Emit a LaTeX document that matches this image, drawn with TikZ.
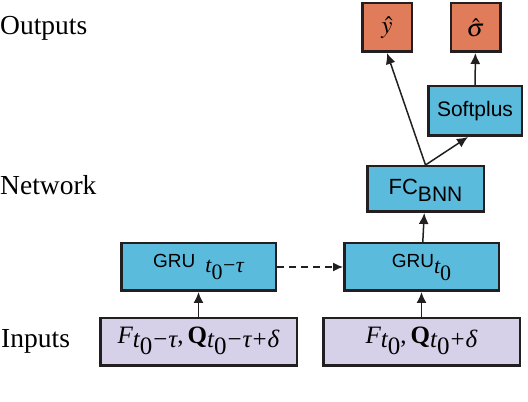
\documentclass[tikz,border=0pt]{standalone}
\usepackage{mathptmx}
\usepackage{fontspec}
\setmainfont{Liberation Serif}
\setsansfont{Liberation Sans}
\usetikzlibrary{arrows.meta,calc}
\definecolor{outc}{RGB}{224,124,90}
\definecolor{netc}{RGB}{91,187,220}
\definecolor{inc}{RGB}{214,208,232}
\definecolor{linec}{RGB}{35,31,32}
% subscript built from text glyphs (Times-like metrics)
\newcommand\mysub[2]{\raisebox{-#1}{\rmfamily #2}}
\newcommand\zero{\raisebox{-7pt}{\upshape 0}}
\newcommand\itx[1]{{\itshape #1}}
\begin{document}
\begin{tikzpicture}[x=1pt,y=1pt,
  box/.style={draw=linec,line width=2.5pt,inner sep=0pt,anchor=center},
  outbox/.style={box,fill=outc,minimum width=49.5pt,minimum height=48.5pt,font=\fontsize{25}{30}\selectfont},
  netbox/.style={box,fill=netc,font=\sffamily\fontsize{19}{23}\selectfont},
  inbox/.style={box,fill=inc,minimum width=196.5pt,minimum height=47.5pt,text height=14pt,text depth=10pt,font=\fontsize{25}{29}\selectfont},
  lbl/.style={anchor=base west,inner sep=0pt,font=\fontsize{27.5}{32}\selectfont},
  conn/.style={draw=linec,line width=1.5pt,-{Latex[length=11pt,width=10pt]}},
  dconn/.style={draw=linec,line width=1.3pt,dash pattern=on 7pt off 5pt,-{Latex[length=10pt,width=9pt]}}]
\useasboundingbox (0,0) rectangle (528,402);
% labels
\node[lbl] (lout) at (0,367) {Outputs};
\node[lbl] (lnet) at (0,207) {Network};
\node[lbl] (lin) at (1,54) {Inputs};
% outputs
\node[outbox] (yhat) at (387,374.5) {$\hat{y}$};
\node[outbox] (shat) at (475.5,374.5) {$\hat{\sigma}$};
% network
\node[netbox,minimum width=93.5pt,minimum height=49.5pt,font=\sffamily\fontsize{21}{24}\selectfont] (sp) at (475,291) {Softplus};
\node[netbox,minimum width=116.5pt,minimum height=45.5pt,text height=16pt,text depth=4pt] (fc) at (425.5,213) {{\fontsize{22}{26}\selectfont FC}\raisebox{-7pt}{\fontsize{21}{24}\selectfont BNN}};
\node[netbox,minimum width=154.5pt,minimum height=47.5pt,text height=11pt,text depth=9pt] (grul) at (198.5,135) {GRU\hspace{10pt}\mysub{5pt}{\fontsize{22}{26}\selectfont\itx{t}\zero\kern0.5pt−\kern0.5pt\itx{τ}}};
\node[netbox,minimum width=154.5pt,minimum height=47.5pt,text height=11pt,text depth=9pt] (grur) at (421.5,135) {GRU\mysub{6pt}{\fontsize{22}{26}\selectfont\itx{t}\zero}};
% inputs
\node[inbox] (inl) at (198.5,60) {\itx{F}\mysub{4pt}{\itx{t}\zero\kern1pt−\kern1pt\itx{τ}},\kern4pt{\bfseries Q}\mysub{4pt}{\itx{t}\zero\kern1pt−\kern1pt\itx{τ}\kern1pt+\kern1pt\itx{δ}}};
\node[inbox] (inr) at (421.5,60) {\itx{F}\mysub{4pt}{\itx{t}\zero},\kern4pt{\bfseries Q}\mysub{4pt}{\itx{t}\zero\kern1pt+\kern1pt\itx{δ}}};
% connectors
\draw[conn] (inl) -- (grul);
\draw[conn] (inr) -- (grur);
\draw[dconn] (grul) -- (grur);
\draw[conn] (grur) -- (fc);
\draw[conn] (fc.north) -- (yhat.south);
\draw[conn] (fc.north) -- ([xshift=-7pt]sp.south);
\draw[conn] (sp) -- (shat);
\end{tikzpicture}
\end{document}
